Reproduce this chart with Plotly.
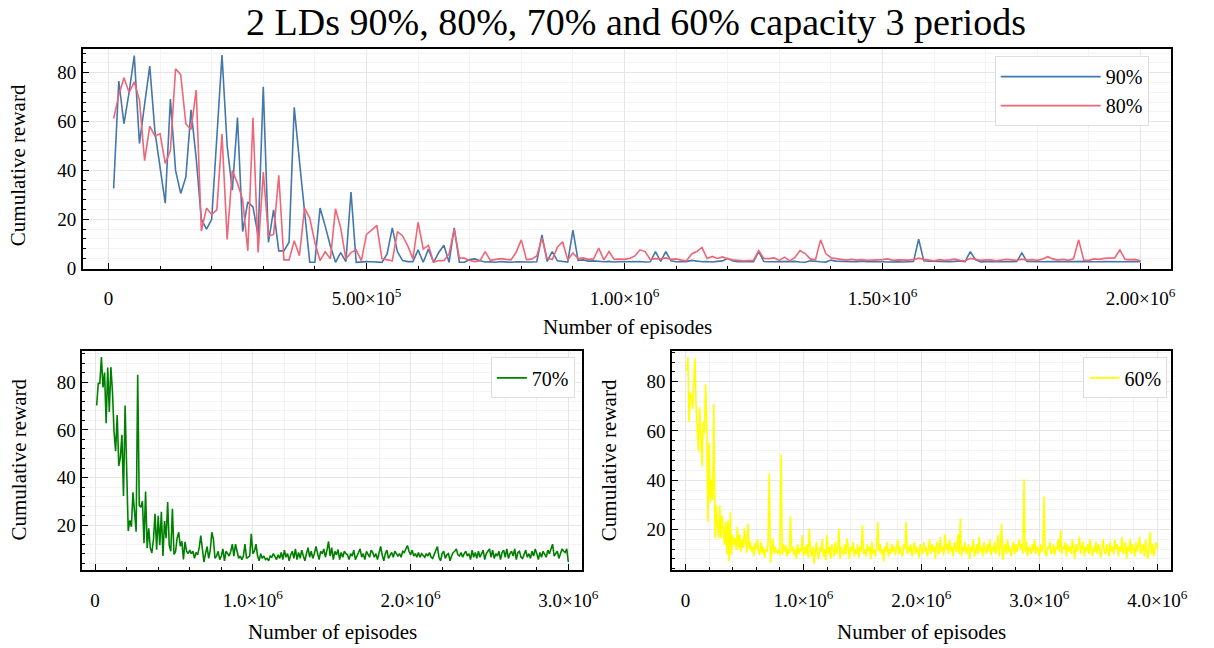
import plotly.graph_objects as go

# ---------------- data ----------------
EP_STEP = 10000  # episodes between logged points

reward_90 = [
    32.6, 76.6, 59.1, 72.0, 87.0, 51.0, 67.0, 82.7, 56.0, 41.3,
    26.6, 69.2, 40.0, 30.6, 37.3, 64.8, 45.0, 20.0, 16.0, 20.0,
    55.0, 87.2, 50.0, 31.9, 61.6, 15.0, 27.1, 25.1, 13.2, 74.2,
    10.6, 23.9, 7.1, 7.1, 10.6, 65.8, 44.0, 22.5, 2.4, 2.4,
    24.6, 17.2, 9.1, 2.4, 6.4, 2.7, 31.2, 2.4, 2.7, 2.7,
    2.6, 2.4, 2.4, 5.8, 16.5, 6.7, 3.1, 2.7, 2.7, 7.5,
    2.4, 7.8, 2.4, 6.4, 9.4, 2.4, 16.5, 2.4, 2.4, 3.5,
    3.8, 3.0, 2.5, 2.6, 2.4, 2.7, 2.5, 2.4, 2.6, 2.5,
    2.7, 2.5, 2.6, 13.6, 2.8, 6.8, 3.0, 2.6, 2.5, 15.6,
    3.2, 3.4, 2.9, 3.0, 2.7, 2.6, 2.8, 2.5, 2.6, 2.7,
    2.5, 2.6, 2.7, 2.5, 2.6, 6.8, 2.8, 6.8, 3.0, 2.6,
    2.6, 2.7, 3.2, 2.8, 2.6, 2.7, 2.5, 2.8, 3.0, 4.0,
    2.9, 2.7, 2.6, 2.6, 2.7, 6.8, 2.7, 2.6, 2.7, 2.8,
    2.6, 2.7, 2.8, 2.5, 2.4, 3.0, 2.7, 2.6, 2.5, 3.3,
    2.9, 2.7, 2.8, 2.6, 2.7, 2.9, 2.6, 2.7, 2.8, 2.6,
    2.5, 2.7, 2.6, 2.5, 2.6, 2.7, 11.9, 3.0, 2.9, 2.8,
    2.7, 2.6, 2.7, 2.8, 3.0, 2.7, 6.8, 3.5, 2.6, 2.7,
    2.8, 2.7, 2.6, 2.5, 2.6, 2.7, 6.2, 2.7, 2.6, 2.8,
    2.6, 2.7, 2.8, 2.7, 2.6, 2.7, 2.6, 2.7, 2.8, 2.6,
    2.5, 2.6, 2.7, 2.6, 2.7, 2.6, 2.6, 2.7, 2.7, 2.7,
]

reward_80 = [
    61.2, 70.9, 77.9, 71.9, 76.2, 68.9, 44.0, 58.1, 54.1, 55.0,
    42.9, 48.1, 81.6, 79.2, 59.0, 56.8, 72.9, 15.2, 24.6, 21.9,
    23.9, 54.9, 11.8, 40.0, 34.7, 28.0, 7.1, 61.5, 6.4, 39.3,
    13.2, 13.8, 38.0, 3.4, 3.4, 11.2, 5.1, 24.6, 20.5, 10.6,
    3.1, 6.7, 3.8, 24.3, 16.5, 3.8, 6.4, 7.5, 3.1, 13.8,
    15.6, 17.5, 3.8, 3.3, 3.0, 15.0, 13.2, 9.1, 3.8, 18.8,
    7.8, 9.4, 2.4, 3.1, 3.1, 5.8, 15.9, 4.1, 4.1, 3.1,
    2.7, 3.0, 6.8, 3.2, 3.5, 3.9, 3.6, 3.4, 6.5, 11.6,
    3.5, 3.7, 5.0, 12.3, 4.0, 3.5, 8.6, 10.8, 3.4, 6.2,
    3.9, 4.2, 3.6, 3.8, 8.2, 3.4, 6.8, 3.6, 3.7, 3.6,
    4.0, 5.0, 7.5, 6.8, 3.5, 3.9, 3.8, 4.2, 3.6, 3.8,
    3.3, 3.0, 5.8, 6.8, 8.5, 4.0, 4.8, 4.0, 4.6, 3.8,
    3.4, 3.1, 3.0, 3.1, 3.2, 7.2, 4.0, 3.9, 4.2, 3.2,
    4.5, 3.0, 4.3, 7.2, 6.0, 3.8, 3.4, 11.6, 6.0, 4.3,
    3.8, 3.6, 3.3, 3.6, 3.3, 3.5, 3.2, 3.3, 3.2, 3.5,
    3.8, 3.2, 3.4, 3.3, 3.3, 3.5, 4.1, 3.6, 3.3, 3.0,
    3.5, 3.2, 3.4, 3.7, 3.2, 3.0, 4.0, 3.6, 3.2, 3.4,
    3.4, 3.0, 3.3, 3.6, 3.4, 3.2, 3.7, 3.3, 3.5, 3.2,
    3.7, 4.7, 3.8, 3.3, 3.6, 3.2, 3.8, 11.6, 3.3, 3.2,
    3.8, 3.6, 4.0, 4.2, 4.2, 7.5, 3.6, 3.5, 3.6, 2.9,
]

reward_70 = [
    70.3, 79.6, 79.6, 90.6, 77.9, 84.1, 62.8, 86.2, 67.6, 86.4,
    76.0, 59.3, 51.1, 66.3, 44.9, 48.4, 58.0, 32.2, 70.3, 38.0,
    17.5, 22.0, 19.3, 33.8, 24.2, 17.2, 83.2, 28.3, 27.5, 30.0,
    12.4, 34.1, 10.4, 18.6, 10.4, 8.3, 14.0, 24.8, 9.7, 23.9,
    11.5, 25.6, 7.0, 21.7, 14.5, 29.7, 11.5, 9.0, 26.9, 7.7,
    8.8, 14.5, 17.0, 11.1, 13.2, 5.6,
    13.0, 9.0, 8.0, 9.5, 8.0, 9.0, 6.0, 8.5, 7.5, 10.5,
    15.6, 11.0, 4.5, 8.0, 11.0, 6.0, 9.5, 17.0, 14.0, 6.0,
    7.0, 9.0, 5.5, 7.0, 10.0, 5.0, 9.0, 8.0, 7.0, 9.0,
    12.0, 7.0, 12.0, 9.0, 6.0, 7.0, 5.5, 7.0, 12.0, 6.0,
    6.5, 7.0, 16.3, 8.0, 9.0, 12.0, 7.0, 5.0, 8.0, 6.0,
    7.0, 5.5, 6.0, 5.0, 7.0, 6.5, 8.0, 7.0, 5.5, 7.5,
    6.0, 8.5, 5.5, 9.5, 6.5, 8.0, 5.0, 7.5, 9.0, 6.0, 10.0, 5.5, 8.5, 6.0, 9.5, 7.0, 5.0, 8.0, 10.5, 6.5,
    9.0, 6.0, 8.0, 11.0, 7.5, 5.5, 9.0, 8.0, 10.0, 6.5, 9.5, 13.1, 7.0, 10.5, 5.5, 9.0, 7.5, 9.7, 5.5, 8.5,
    6.5, 9.0, 8.0, 7.5, 5.5, 8.0, 7.0, 9.5, 5.5, 7.5, 8.5, 10.0, 6.5, 8.0, 5.5, 9.0, 8.0, 6.5, 9.5, 8.5,
    6.5, 8.0, 5.5, 9.0, 11.0, 7.5, 5.0, 8.0, 9.5, 6.0, 7.0, 8.5, 6.5, 9.0, 8.0, 7.0, 8.0, 6.5, 9.0, 8.5,
    10.0, 11.4, 9.0, 7.5, 9.5, 7.0, 8.0, 6.5, 8.5, 6.5, 8.0, 7.0, 6.5, 8.0, 7.0, 8.5, 6.5, 6.0, 8.0, 9.0,
    11.0, 6.5, 5.0, 8.0, 9.0, 6.0, 7.5, 8.0, 5.0, 7.0, 8.5, 9.0, 10.0, 7.5, 7.0, 8.5, 6.5, 8.0, 9.0, 7.0,
    8.0, 5.5, 9.5, 6.5, 8.5, 6.0, 9.0, 6.5, 8.0, 9.5, 5.5, 8.0, 9.0, 10.0, 6.5, 9.5, 6.0, 8.0, 7.0, 9.0,
    5.5, 8.5, 9.5, 6.5, 10.0, 6.0, 8.0, 9.0, 7.0, 10.0, 5.5, 8.5, 9.0, 6.5, 6.0, 8.0, 9.5, 6.5, 8.0, 6.0,
    9.0, 7.0, 10.0, 8.0, 5.5, 8.5, 6.5, 9.0, 8.0, 6.5, 9.5, 8.0, 10.0, 12.0, 7.0, 8.0, 9.0, 6.0, 8.5, 10.0,
    9.0, 8.5, 10.0, 4.5,
]

reward_60 = [
    84.4, 90.0, 63.7, 75.7, 73.7, 69.0, 80.0, 89.5, 69.7, 60.0,
    51.7, 69.7, 58.0, 45.7, 63.7, 59.0, 79.0, 64.0, 23.0, 55.0,
    31.0, 40.4, 32.0, 71.0,
    16.4, 29.7, 22.0, 16.4, 29.7, 16.4, 25.7, 19.0, 13.7, 23.0, 9.7, 23.7, 7.0, 27.0, 9.7, 17.7,
    13.7, 16.4, 11.7, 21.0, 12.0, 18.0, 11.0,
    16.0, 12.5, 20.5, 14.0, 10.5, 22.4, 12.0, 15.0, 11.0, 13.0, 9.0, 14.5, 12.0,
    16.0, 11.0, 9.5, 15.0, 10.5, 13.0, 8.5, 12.0, 11.0, 15.0,
    42.7, 6.5, 12.0, 16.4, 10.0, 13.0, 11.0, 10.5, 12.0, 9.5,
    50.4, 9.7, 14.0, 11.0, 13.5, 9.0, 12.0, 10.0, 25.4, 11.0,
    13.0, 9.5, 12.0, 8.0, 14.0, 10.0, 12.4, 11.0, 17.7, 9.0,
    13.0, 10.0, 14.0, 8.5, 20.4, 11.0, 9.0, 13.0, 6.0, 12.0, 15.0, 10.0, 8.0, 13.0, 11.0, 16.0, 9.0, 12.0, 7.5, 17.7,
    10.0, 13.0, 8.0, 14.0, 11.0, 9.0, 15.0, 10.0, 12.0, 20.4, 8.0, 13.0, 11.0, 9.5, 14.0, 10.0, 16.4, 12.0, 8.0, 13.0,
    11.0, 15.0, 9.0, 12.0, 10.0, 14.0, 8.5, 13.0, 11.0, 21.7, 10.0, 12.0, 9.0, 14.0, 11.0, 13.0, 8.0, 15.0, 10.0, 12.0,
    9.0, 13.0, 23.0, 11.0, 14.0, 10.0, 12.0, 7.0, 13.0, 11.0, 15.0, 9.0, 12.0, 10.0, 14.0, 11.0, 13.0, 9.5, 12.0, 16.0,
    10.0, 13.0, 11.0, 9.0, 14.0, 12.0, 23.1, 10.0, 13.0, 11.0, 14.0, 9.0, 12.0, 15.0, 10.0, 13.0, 11.0, 8.5, 14.0, 12.0,
    10.0, 15.0, 11.0, 13.0, 9.0, 12.0, 16.0, 10.0, 14.0, 11.0, 13.0, 8.0, 15.0, 12.0, 10.0, 17.0, 11.0, 13.0, 9.5, 18.0,
    12.0, 14.0, 10.0, 16.0, 11.0, 13.0, 9.0, 15.0, 12.0, 11.0, 18.0, 10.0, 24.4, 9.0, 13.0, 11.0, 15.0, 10.0, 12.0, 14.0,
    8.0, 13.0, 11.0, 16.0, 9.0, 12.0, 14.0, 10.0, 17.0, 11.0, 13.0, 9.0, 15.0, 12.0, 10.0, 14.0, 11.0, 16.0, 9.5, 13.0,
    11.0, 15.0, 10.0, 12.0, 18.0, 9.0, 13.0, 22.4, 7.5, 12.0, 14.0, 10.0, 16.0, 11.0, 13.0, 9.0, 12.0, 15.0, 10.0, 14.0,
    11.0, 13.0, 16.0, 12.0, 14.0, 10.0, 40.4, 11.0, 15.0, 9.0, 13.0, 12.0, 10.0, 14.0, 11.0, 16.0, 10.0, 13.0, 12.0, 9.0,
    14.0, 11.0, 12.0, 33.5, 10.0, 9.0, 13.0, 12.0, 15.0, 10.0, 11.0, 14.0, 9.5, 13.0, 12.0, 16.0, 11.0, 19.8, 10.0, 13.0,
    12.0, 15.0, 9.0, 14.0, 11.0, 13.0, 10.0, 16.0, 12.0, 8.0, 14.0, 11.0, 13.0, 17.0, 10.0, 12.0, 15.0, 9.0, 13.0, 11.0,
    14.0, 10.0, 16.0, 12.0, 9.0, 13.0, 11.0, 15.0, 10.0, 14.0, 12.0, 8.5, 13.0, 16.0, 11.0, 10.0, 14.0, 12.0, 9.0, 15.0,
    11.0, 13.0, 10.0, 16.0, 12.0, 14.0, 9.0, 13.0, 11.0, 17.0, 10.0, 12.0, 15.0, 8.0, 13.0, 11.0, 16.0, 10.0, 14.0, 12.0,
    9.0, 15.0, 11.0, 13.0, 17.0, 10.0, 12.0, 14.0, 9.0, 16.0, 11.0, 8.0, 13.0, 19.0, 10.0, 14.0, 9.0, 12.0, 15.0, 12.0,
]

episodes_90 = [EP_STEP * (i + 1) for i in range(len(reward_90))]
episodes_80 = [EP_STEP * (i + 1) for i in range(len(reward_80))]
episodes_70 = [EP_STEP * (i + 1) for i in range(len(reward_70))]
episodes_60 = [EP_STEP * (i + 1) for i in range(len(reward_60))]

top_xtick_vals = [0, 5e5, 1e6, 1.5e6, 2e6]
top_xtick_text = ["0", "5.00×10<sup>5</sup>", "1.00×10<sup>6</sup>", "1.50×10<sup>6</sup>", "2.00×10<sup>6</sup>"]
bl_xtick_vals = [0, 1e6, 2e6, 3e6]
bl_xtick_text = ["0", "1.0×10<sup>6</sup>", "2.0×10<sup>6</sup>", "3.0×10<sup>6</sup>"]
br_xtick_vals = [0, 1e6, 2e6, 3e6, 4e6]
br_xtick_text = ["0", "1.0×10<sup>6</sup>", "2.0×10<sup>6</sup>", "3.0×10<sup>6</sup>", "4.0×10<sup>6</sup>"]

# ---------------- styling ----------------
W, H = 1214, 648
FONT = "Liberation Serif"
TICK_FS = 19
GUIDE_FS = 21
LEGEND_FS = 20
GRID = "#e6e6e6"
MINOR_GRID = "#f3f3f3"


def px_x(p):
    return p / W


def px_y(p):
    return 1 - p / H


def xaxis(domain, rng, vals, text, minor_dtick, anchor):
    return dict(
        domain=domain, range=rng, anchor=anchor,
        tickmode="array", tickvals=vals, ticktext=text,
        ticks="inside", ticklen=6, tickwidth=1.2, tickcolor="black",
        showline=True, linecolor="black", linewidth=1.5, mirror=True,
        showgrid=True, gridcolor=GRID, gridwidth=1, zeroline=False,
        minor=dict(dtick=minor_dtick, tick0=0, ticks="inside", ticklen=3, tickcolor="black",
                   showgrid=True, gridcolor=MINOR_GRID, gridwidth=1),
        tickfont=dict(family=FONT, size=TICK_FS, color="black"),
        ticklabelstandoff=12,
    )


def yaxis(domain, rng, anchor):
    return dict(
        domain=domain, range=rng, anchor=anchor,
        tickmode="array", tickvals=[0, 20, 40, 60, 80], ticktext=["0", "20", "40", "60", "80"],
        ticks="inside", ticklen=6, tickwidth=1.2, tickcolor="black",
        showline=True, linecolor="black", linewidth=1.5, mirror=True,
        showgrid=True, gridcolor=GRID, gridwidth=1, zeroline=False,
        minor=dict(dtick=4, tick0=0, ticks="inside", ticklen=3, tickcolor="black",
                   showgrid=True, gridcolor=MINOR_GRID, gridwidth=1),
        tickfont=dict(family=FONT, size=TICK_FS, color="black"),
        ticklabelstandoff=1,
    )


fig = go.Figure()
fig.add_trace(go.Scatter(x=episodes_90, y=reward_90, mode="lines", name="90%",
                         line=dict(color="#4477AA", width=1.6), xaxis="x", yaxis="y", legend="legend"))
fig.add_trace(go.Scatter(x=episodes_80, y=reward_80, mode="lines", name="80%",
                         line=dict(color="#EE6677", width=1.6), xaxis="x", yaxis="y", legend="legend"))
fig.add_trace(go.Scatter(x=episodes_70, y=reward_70, mode="lines", name="70%",
                         line=dict(color="#008000", width=1.6), xaxis="x2", yaxis="y2", legend="legend2"))
fig.add_trace(go.Scatter(x=episodes_60, y=reward_60, mode="lines", name="60%",
                         line=dict(color="#FFFF00", width=1.6), xaxis="x3", yaxis="y3", legend="legend3"))

top_dom_x = [px_x(84), px_x(1188)]
top_dom_y = [px_y(273), px_y(50)]
bl_dom_x = [px_x(83.5), px_x(590)]
br_dom_x = [px_x(681.5), px_x(1187.5)]
bot_dom_y = [px_y(579), px_y(356)]

legend_style = dict(bgcolor="white", bordercolor="#dddddd", borderwidth=1,
                    font=dict(family=FONT, size=LEGEND_FS, color="black"),
                    xanchor="right", yanchor="top", tracegroupgap=0)

annotations = []
for (cx, cy) in [(636, 318)]:
    annotations.append(dict(text="Number of episodes", x=px_x(cx), y=px_y(cy), xref="paper", yref="paper",
                            showarrow=False, xanchor="center", yanchor="top",
                            font=dict(family=FONT, size=GUIDE_FS, color="black")))
for (cx, cy) in [(337, 628), (935, 628)]:
    annotations.append(dict(text="Number of episodes", x=px_x(cx), y=px_y(cy), xref="paper", yref="paper",
                            showarrow=False, xanchor="center", yanchor="top",
                            font=dict(family=FONT, size=GUIDE_FS, color="black")))
for (cx, cy) in [(19, 168), (19, 467), (617, 467)]:
    annotations.append(dict(text="Cumulative reward", x=px_x(cx), y=px_y(cy), xref="paper", yref="paper",
                            showarrow=False, xanchor="center", yanchor="middle", textangle=-90,
                            font=dict(family=FONT, size=GUIDE_FS, color="black")))

fig.update_layout(
    width=W, height=H,
    margin=dict(l=0, r=0, t=0, b=0),
    paper_bgcolor="white", plot_bgcolor="white",
    title=dict(text="2 LDs 90%, 80%, 70% and 60% capacity 3 periods", x=px_x(636), xanchor="center",
               y=px_y(22), yanchor="middle", font=dict(family=FONT, size=38, color="black")),
    xaxis=xaxis(top_dom_x, [-49700, 2059700], top_xtick_vals, top_xtick_text, 1e5, "y"),
    yaxis=yaxis(top_dom_y, [-0.25, 89.6], "x"),
    xaxis2=xaxis(bl_dom_x, [-81000, 3085000], bl_xtick_vals, bl_xtick_text, 2e5, "y2"),
    yaxis2=yaxis(bot_dom_y, [1.1, 93.4], "x2"),
    xaxis3=xaxis(br_dom_x, [-115000, 4115000], br_xtick_vals, br_xtick_text, 2e5, "y3"),
    yaxis3=yaxis(bot_dom_y, [3.5, 92.7], "x3"),
    legend=dict(x=px_x(1165), y=px_y(57), itemwidth=100, **legend_style),
    legend2=dict(x=px_x(583), y=px_y(363), **legend_style),
    legend3=dict(x=px_x(1184), y=px_y(363), **legend_style),
    annotations=annotations,
    showlegend=True,
)

fig.write_html("out.html")
